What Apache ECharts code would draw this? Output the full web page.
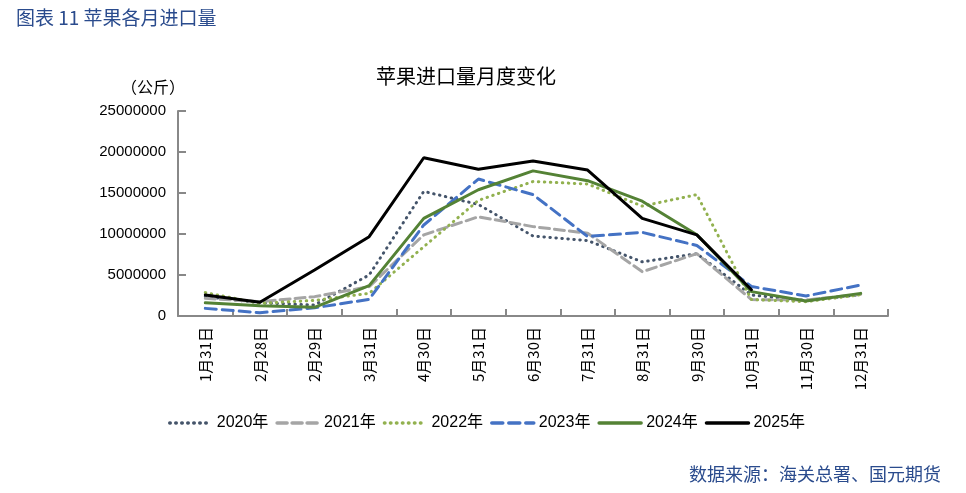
<!DOCTYPE html>
<html><head><meta charset="utf-8">
<script src="https://cdn.jsdelivr.net/npm/echarts@6/dist/echarts.min.js"></script>
<style>html,body{margin:0;padding:0;background:#fff}#c{width:966px;height:493px}</style>
</head><body><div id="c"></div>
<script>
const categories = ['1月31日','2月28日','2月29日','3月31日','4月30日','5月31日','6月30日','7月31日','8月31日','9月30日','10月31日','11月30日','12月31日'];
const yTicks = [0, 5000000, 10000000, 15000000, 20000000, 25000000];
const s2020 = [2360000,1620000,1340000,5000000,15200000,13600000,9760000,9200000,6600000,7600000,2560000,1900000,2600000];
const s2021 = [2150000,1750000,2360000,3580000,9900000,12100000,10900000,10100000,5400000,7600000,2000000,1950000,2650000];
const s2022 = [2850000,1550000,1900000,2760000,8450000,14100000,16400000,16100000,13400000,14800000,2000000,1750000,2600000];
const s2023 = [930000,400000,1000000,2030000,11100000,16700000,14800000,9700000,10200000,8600000,3600000,2440000,3780000];
const s2024 = [1620000,1260000,1060000,3700000,11900000,15400000,17700000,16500000,14000000,9900000,2970000,1830000,2760000];
const s2025 = [2560000,1670000,5600000,9670000,19300000,17900000,18900000,17800000,11900000,9900000,3200000,null,null];

const FONT = "'Liberation Sans','Noto Sans CJK SC',sans-serif";
const chart = echarts.init(document.getElementById('c'));
function line(name, data, color, type, width){
  return {name, type:'line', data, symbol:'none', smooth:false, connectNulls:false,
    lineStyle:{color, width, type, cap:'round'}, itemStyle:{color}, emphasis:{disabled:true}};
}
chart.setOption({
  animation:false,
  backgroundColor:'#fff',
  title:[
    {text:'图表 11 苹果各月进口量', left:11, top:3, textStyle:{fontFamily:"'Noto Sans CJK SC',sans-serif", fontSize:19, fontWeight:'normal', color:'#2a4b8d'}},
    {text:'苹果进口量月度变化', left:461, textAlign:'center', top:61, textStyle:{fontFamily:"'Noto Sans CJK SC',serif", fontSize:20, fontWeight:'normal', color:'#000'}},
    {text:'（公斤）', left:116, top:74, textStyle:{fontFamily:"'Noto Sans CJK SC',sans-serif", fontSize:16, fontWeight:'normal', color:'#000'}},
    {text:'数据来源：海关总署、国元期货', right:20, top:460, textStyle:{fontFamily:"'Noto Sans CJK SC',sans-serif", fontSize:18, fontWeight:'normal', color:'#2a4b8d'}}
  ],
  grid:{left:178, right:78, top:111, bottom:177, containLabel:false},
  legend:{
    top:410, left:163, itemWidth:42, itemHeight:10, itemGap:7,
    itemStyle:{opacity:0},
    lineStyle:{width:3.5},
    textStyle:{fontFamily:FONT, fontSize:16, color:'#000'},
    data:['2020年','2021年','2022年','2023年','2024年','2025年']
  },
  xAxis:{
    type:'category', data:categories, boundaryGap:true,
    axisLine:{lineStyle:{color:'#888', width:2}},
    axisTick:{show:true, inside:true, length:7, alignWithLabel:false, lineStyle:{color:'#888', width:2}},
    axisLabel:{rotate:90, interval:0, fontFamily:"'Noto Sans CJK SC',sans-serif", fontSize:15, color:'#000', margin:11}
  },
  yAxis:{
    type:'value', min:yTicks[0], max:yTicks[yTicks.length-1], interval:yTicks[1]-yTicks[0],
    splitLine:{show:false},
    axisLine:{show:true, lineStyle:{color:'#888', width:2}},
    axisTick:{show:true, inside:true, length:8, lineStyle:{color:'#888', width:2}},
    axisLabel:{formatter:v=>String(v), fontFamily:FONT, fontSize:15, color:'#000', margin:12}
  },
  series:[
    line('2020年', s2020, '#44546A', [0.5,5.5], 3),
    line('2021年', s2021, '#A5A5A5', [10,5], 3),
    line('2022年', s2022, '#92B14F', [0.5,5.5], 3),
    line('2023年', s2023, '#4472C4', [11,6], 3),
    line('2024年', s2024, '#548235', 'solid', 3),
    line('2025年', s2025, '#000000', 'solid', 3)
  ]
});
</script></body></html>
